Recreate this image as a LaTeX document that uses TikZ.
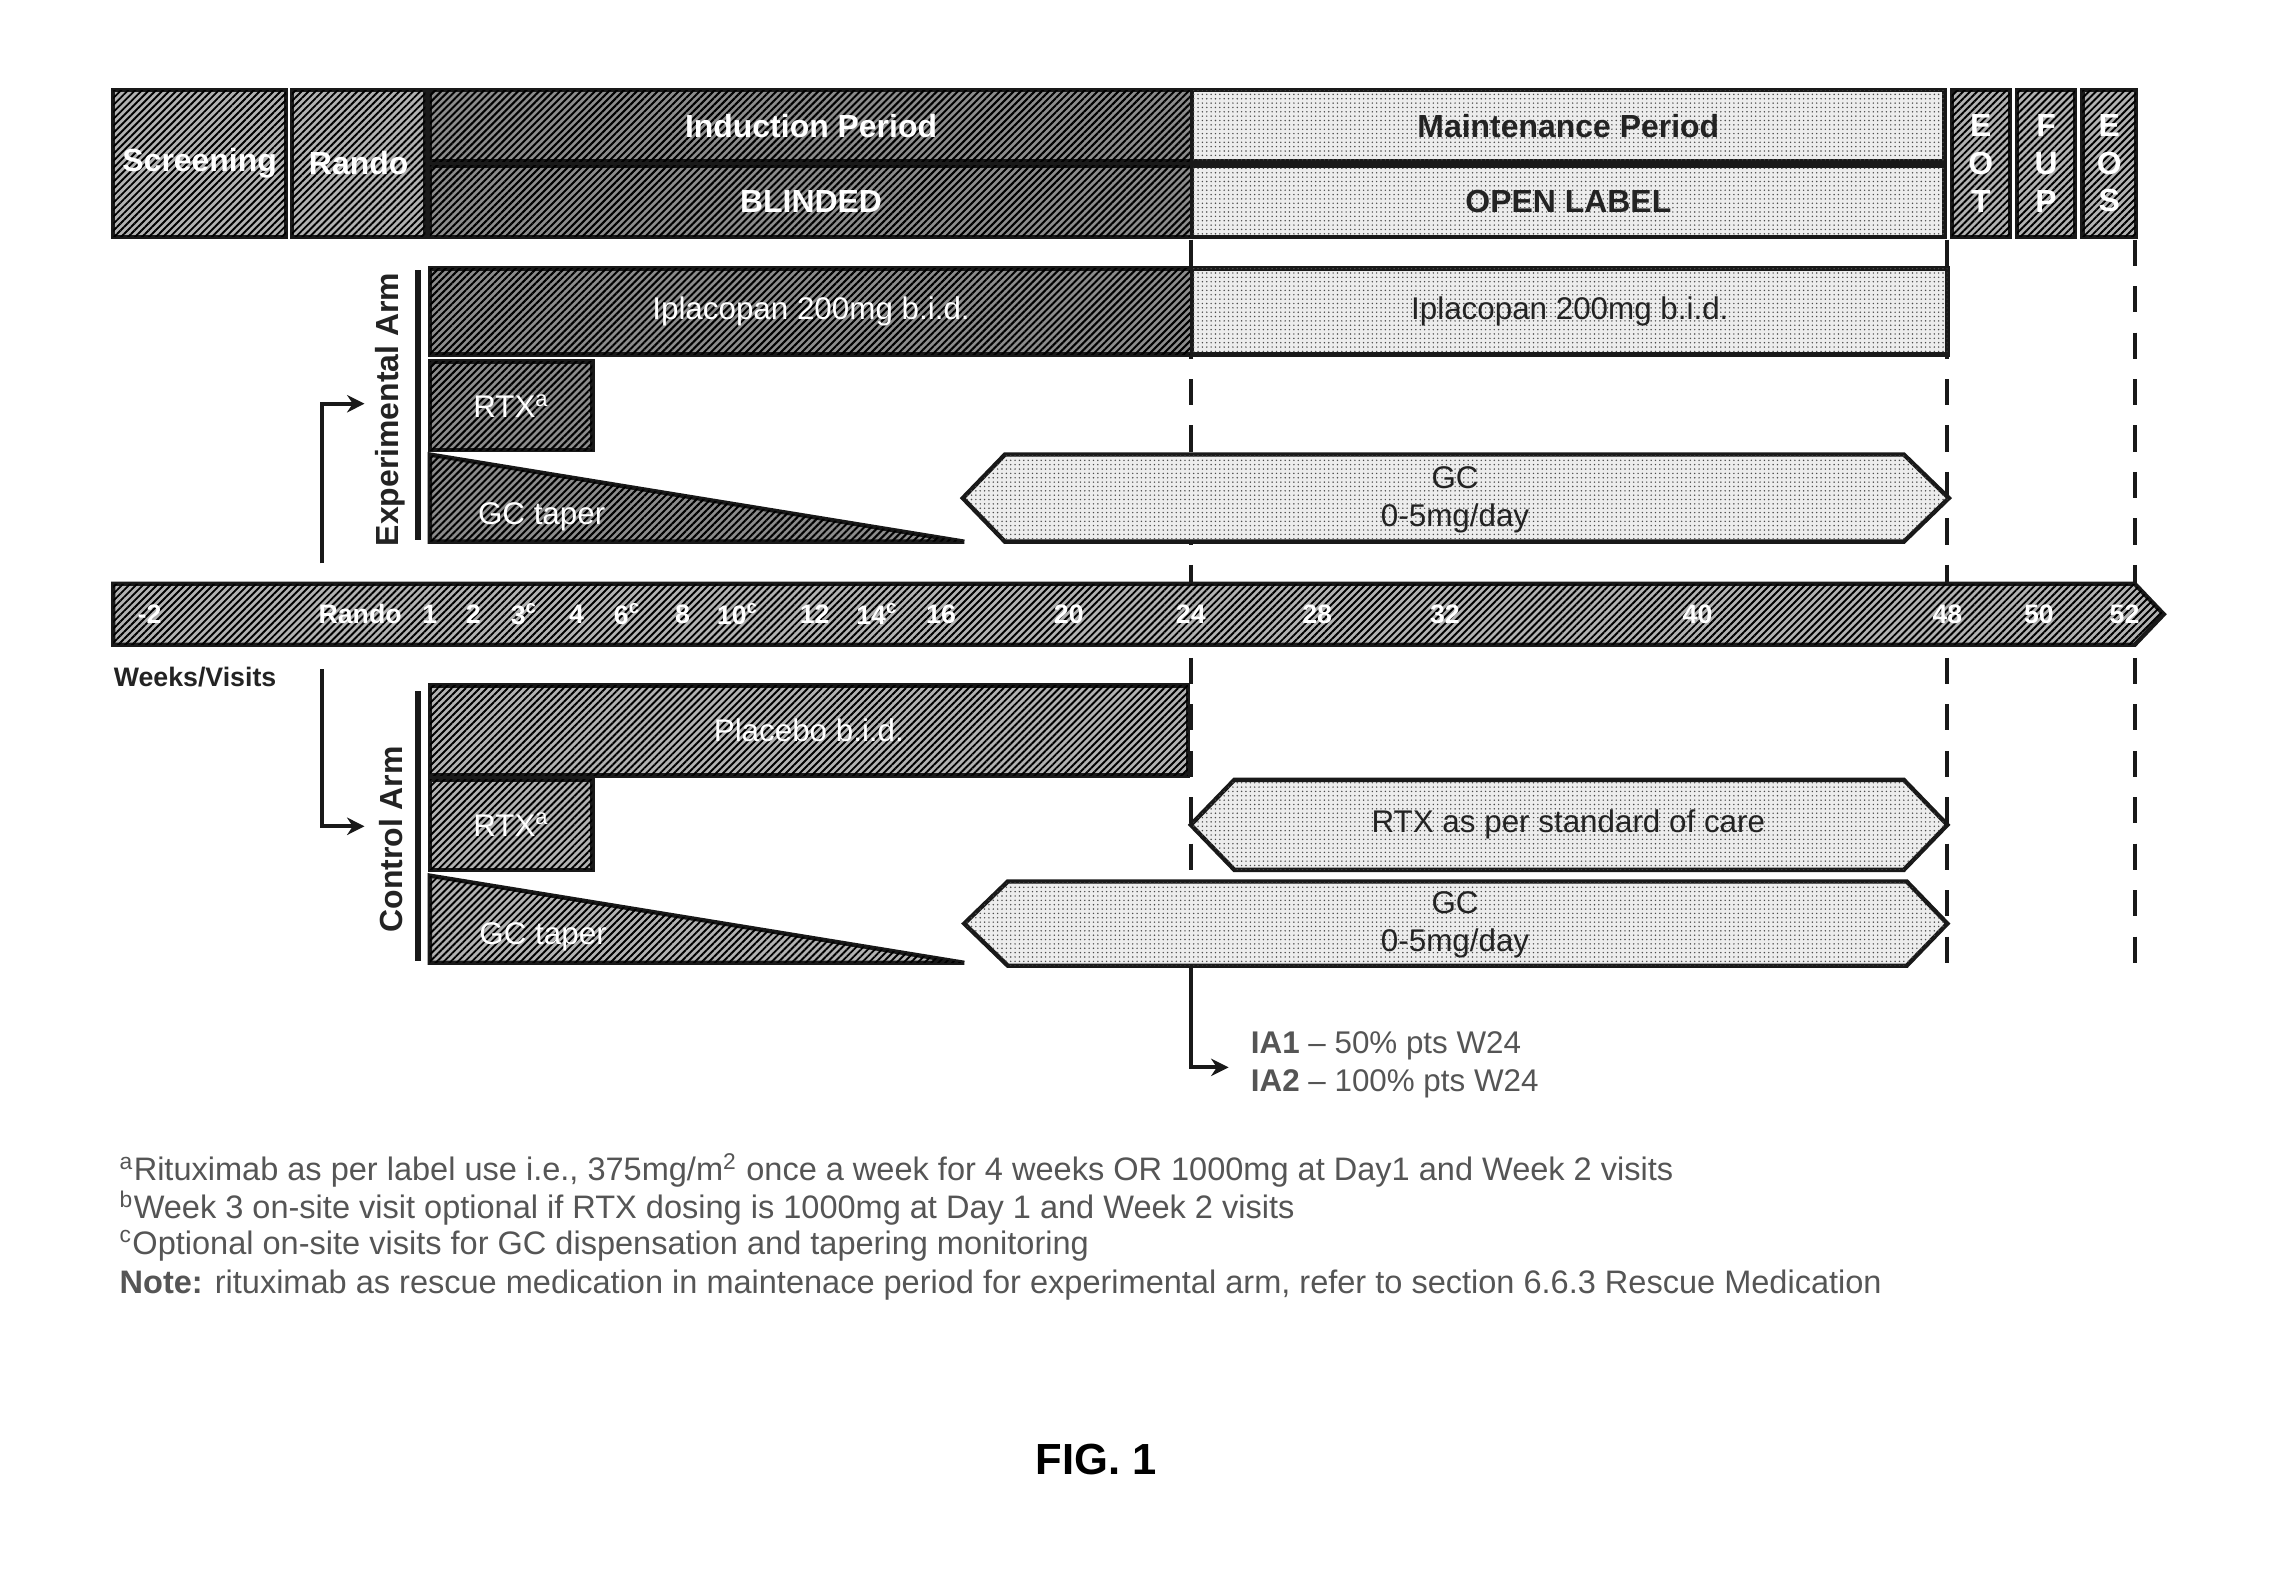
\documentclass[tikz,border=0pt]{standalone}
\usepackage{fontspec}
\setmainfont{Liberation Sans}
\usetikzlibrary{patterns.meta,arrows.meta,fit}
\definecolor{edgec}{RGB}{25,25,25}
\definecolor{fncol}{RGB}{85,85,85}
\definecolor{txtdark}{RGB}{35,35,35}
\newcommand{\hdrfont}{\bfseries\fontsize{11}{13}\selectfont}
\newcommand{\bodyfont}{\fontsize{10.8}{13}\selectfont}
\newcommand{\notefont}{\fontsize{11.2}{13}\selectfont}
\newcommand{\tlfont}{\bfseries\fontsize{9.2}{11}\selectfont}
\newcommand{\figfont}{\bfseries\fontsize{15}{18}\selectfont}
\tikzset{
  hatchA/.style={draw=edgec, line width=1.5pt, fill=black!45,
    postaction={pattern={Lines[angle=45,distance=1.7pt,line width=0.7pt]}, pattern color=black}},
  hatchB/.style={draw=edgec, line width=1.5pt, fill=black!30,
    postaction={pattern={Lines[angle=45,distance=1.7pt,line width=0.65pt]}, pattern color=black}},
  lightbox/.style={draw=edgec, line width=1.5pt, fill=black!7,
    postaction={pattern={Dots[distance=1.5pt,radius=0.28pt]}, pattern color=black!70}},
  fitbox/.style={inner sep=0pt, outer sep=0pt},
  wlbl/.style={text=white, font=\bodyfont},
  whdr/.style={text=white, font=\hdrfont},
  dhdr/.style={text=txtdark, font=\hdrfont},
  dlbl/.style={text=txtdark, font=\bodyfont},
  tl/.style={text=white, font=\tlfont},
  ianote/.style={text=fncol, font=\bodyfont, anchor=west, inner sep=0pt},
  fnote/.style={text=fncol, font=\notefont, anchor=west, inner sep=0pt},
  armlbl/.style={text=txtdark, font=\hdrfont, rotate=90},
  vdash/.style={draw=edgec, line width=1.3pt, dash pattern=on 9pt off 7pt},
  conn/.style={draw=edgec, line width=1.3pt, -{Stealth[length=6pt,width=6pt]}},
  bracket/.style={draw=edgec, line width=2pt},
}
\begin{document}
\begin{tikzpicture}[x=0.5pt,y=-0.5pt]
\useasboundingbox (0,0) rectangle (1568,1088);
\fill[white] (0,0) rectangle (1568,1088);

% vertical dashed milestone lines
\coordinate (d1t) at (820,165); \coordinate (d1b) at (820,666);
\coordinate (d2t) at (1341,165); \coordinate (d2b) at (1341,663);
\coordinate (d3t) at (1470,165); \coordinate (d3b) at (1470,663);
\draw[vdash] (d1t) -- (d1b);
\draw[vdash] (d2t) -- (d2b);
\draw[vdash] (d3t) -- (d3b);

% header
\node[hatchB, fitbox, fit={(78,62)(197,163)}] (scr) {};
\node[whdr] (scrT) at (scr.center) {Screening};
\node[hatchB, fitbox, fit={(201,62)(293,163)}] (rnd) {};
\node[whdr] (rndT) at (rnd.center) {Rando};
\node[hatchA, fitbox, fit={(296,62)(821,111)}] (ind) {};
\node[whdr] (indT) at (ind.center) {Induction Period};
\node[hatchA, fitbox, fit={(296,114)(821,163)}] (bld) {};
\node[whdr] (bldT) at (bld.center) {BLINDED};
\node[lightbox, fitbox, fit={(821,62)(1339,111)}] (mnt) {};
\node[dhdr] (mntT) at (mnt.center) {Maintenance Period};
\node[lightbox, fitbox, fit={(821,114)(1339,163)}] (opn) {};
\node[dhdr] (opnT) at (opn.center) {OPEN LABEL};
\node[hatchB, fitbox, fit={(1344,62)(1384,163)}] (eot) {};
\node[whdr, align=center] (eotT) at (eot.center) {E\\O\\T};
\node[hatchB, fitbox, fit={(1389,62)(1429,163)}] (fup) {};
\node[whdr, align=center] (fupT) at (fup.center) {F\\U\\P};
\node[hatchB, fitbox, fit={(1434,62)(1471,163)}] (eos) {};
\node[whdr, align=center] (eosT) at (eos.center) {E\\O\\S};

% experimental arm
\node[hatchA, fitbox, fit={(296,185)(821,244)}] (iplA) {};
\node[wlbl] (iplAT) at (iplA.center) {Iplacopan 200mg b.i.d.};
\node[lightbox, fitbox, fit={(821,185)(1341,244)}] (iplB) {};
\node[dlbl] (iplBT) at (iplB.center) {Iplacopan 200mg b.i.d.};
\node[hatchA, fitbox, fit={(296,249)(408,310)}] (rtxE) {};
\node[wlbl] (rtxET) at (rtxE.center) {RTX\textsuperscript{a}};
\path[hatchA] (296,313) -- (296,373) -- (664,373) -- cycle;
\node[wlbl] (gctE) at (373,356) {GC taper};
\path[lightbox] (663,343) -- (692,313) -- (1311,313) -- (1342,343) -- (1311,373) -- (692,373) -- cycle;
\node[dlbl, align=center] (gcE) at (1002,344) {GC\\0-5mg/day};
\draw[bracket] (288,186) -- (288,372);
\node[armlbl] (expArm) at (269,282) {Experimental Arm};

% timeline
\path[hatchB] (78,402) -- (1470,402) -- (1490,423) -- (1470,444) -- (78,444) -- cycle;
\foreach \xx/\tt/\nn in {103/{-2}/tA, 248/{Rando}/tB, 296/{1}/tC, 326/{2}/tD, 361/{3\textsuperscript{c}}/tE,
  397/{4}/tF, 432/{6\textsuperscript{c}}/tG, 470/{8}/tH, 508/{10\textsuperscript{c}}/tI, 561/{12}/tJ,
  604/{14\textsuperscript{c}}/tK, 648/{16}/tL, 736/{20}/tM, 820/{24}/tN, 907/{28}/tO, 995/{32}/tP,
  1169/{40}/tQ, 1341/{48}/tR, 1404/{50}/tS, 1463/{52}/tT}
  \node[tl] (\nn) at (\xx,423) {\tt};
\node[text=txtdark, font=\tlfont, anchor=west, inner sep=0pt] (wv) at (78,466) {Weeks/Visits};

% control arm
\node[hatchB, fitbox, fit={(296,472)(818,534)}] (plc) {};
\node[wlbl] (plcT) at (plc.center) {Placebo b.i.d.};
\node[hatchB, fitbox, fit={(296,537)(408,599)}] (rtxC) {};
\node[wlbl] (rtxCT) at (rtxC.center) {RTX\textsuperscript{a}};
\path[hatchB] (296,603) -- (296,663) -- (664,663) -- cycle;
\node[wlbl] (gctC) at (374,645) {GC taper};
\path[lightbox] (820,568) -- (850,537) -- (1311,537) -- (1341,568) -- (1311,599) -- (850,599) -- cycle;
\node[dlbl] (rtxS) at (1080,568) {RTX as per standard of care};
\path[lightbox] (664,636) -- (694,607) -- (1313,607) -- (1341,636) -- (1313,665) -- (694,665) -- cycle;
\node[dlbl, align=center] (gcC) at (1002,637) {GC\\0-5mg/day};
\draw[bracket] (288,476) -- (288,662);
\node[armlbl] (ctlArm) at (269,578) {Control Arm};

% randomisation arrows
\coordinate (eStart) at (222,388); \coordinate (eEnd) at (251,278);
\draw[conn] (eStart) |- (eEnd);
\coordinate (cStart) at (222,461); \coordinate (cEnd) at (251,569);
\draw[conn] (cStart) |- (cEnd);

% interim analyses
\coordinate (iaEnd) at (846,735);
\draw[conn] (d1b) |- (iaEnd);
\node[ianote] (ia1) at (861,720) {\textbf{IA1} -- 50\% pts W24};
\node[ianote] (ia2) at (861,746) {\textbf{IA2} -- 100\% pts W24};

% footnotes
\node[fnote] (fa) at (82,806) {\textsuperscript{a}Rituximab as per label use i.e., 375mg/m\textsuperscript{2} once a week for 4 weeks OR 1000mg at Day1 and Week 2 visits};
\node[fnote] (fb) at (82,832) {\textsuperscript{b}Week 3 on-site visit optional if RTX dosing is 1000mg at Day 1 and Week 2 visits};
\node[fnote] (fc) at (82,858) {\textsuperscript{c}Optional on-site visits for GC dispensation and tapering monitoring};
\node[fnote] (fd) at (82,885) {\textbf{Note:} rituximab as rescue medication in maintenace period for experimental arm, refer to section 6.6.3 Rescue Medication};

\node[font=\figfont, text=black] (fig) at (755,1005) {FIG. 1};
\end{tikzpicture}
\end{document}
